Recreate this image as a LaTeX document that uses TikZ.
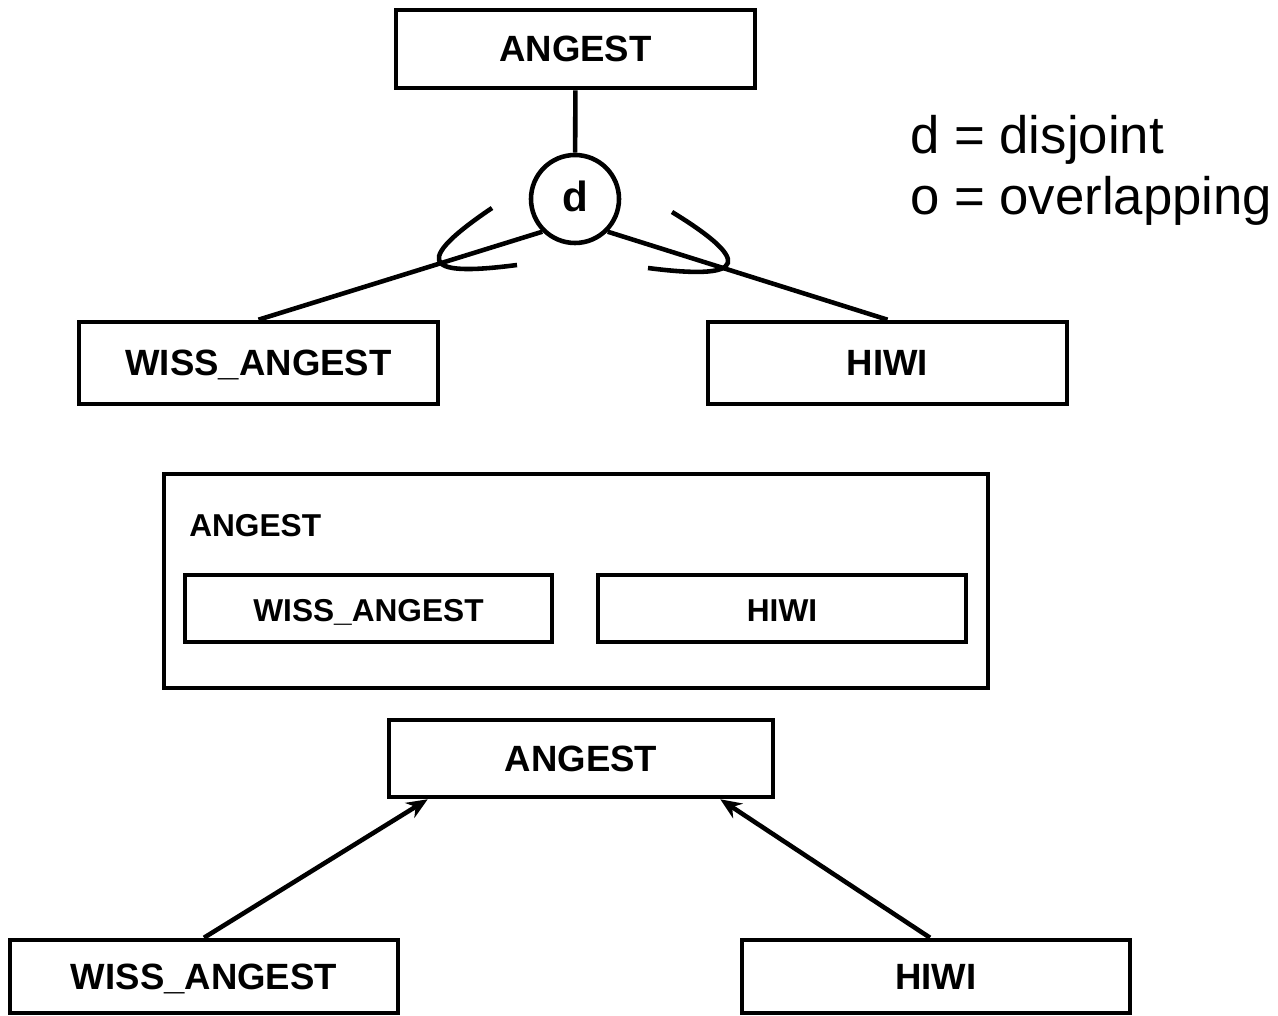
\documentclass[tikz,border=0pt]{standalone}
\usepackage{fontspec}
\setmainfont{Liberation Sans}
\usetikzlibrary{arrows.meta}
\begin{document}
\begin{tikzpicture}[x=0.1mm,y=-0.1mm,line width=1.3pt,
    ent/.style={draw,rectangle,inner sep=0pt,text height=0.72em,text depth=0pt,font=\bfseries\fontsize{10.4}{12}\selectfont},
    sub/.style={draw,rectangle,inner sep=0pt,text height=0.72em,text depth=0pt,font=\bfseries\fontsize{9}{11}\selectfont},
    legend/.style={anchor=base west,inner sep=0pt,font=\fontsize{15}{18}\selectfont},
    isa/.style={-{Stealth[length=6pt,width=5pt]}}]
        \useasboundingbox (0,0) rectangle (1278,1016);
        \node[ent,minimum width=35.9mm,minimum height=7.8mm] (angest1) at (575.5,49) {ANGEST};
        \node[ent,circle,minimum size=8.8mm,font=\bfseries\fontsize{12}{14}\selectfont] (dcirc) at (575,199) {d};
        \node[ent,minimum width=35.9mm,minimum height=8.2mm] (wiss1) at (258.5,363) {WISS\_ANGEST};
        \node[ent,minimum width=35.9mm,minimum height=8.2mm] (hiwi1) at (887.5,363) {HIWI};
        \node[legend] (legd) at (908,154) {d = disjoint};
        \node[legend] (lego) at (908,215) {o = overlapping};
        \draw (angest1) -- (dcirc);
        \draw (dcirc.225) -- (wiss1.north);
        \draw (dcirc.-45) -- (hiwi1.north);
        \draw (492,208) .. controls (400,270) and (440,275) .. (517,265);
        \draw (672,212) .. controls (770,272) and (725,278) .. (648,268);
        \node[sub,minimum width=82.4mm,minimum height=21.4mm] (angest2) at (576,581) {};
        \node[sub,draw=none,anchor=base west] (angest2lbl) at (187,537) {ANGEST};
        \node[sub,minimum width=36.7mm,minimum height=6.7mm] (wiss2) at (368.5,608.5) {WISS\_ANGEST};
        \node[sub,minimum width=36.8mm,minimum height=6.7mm] (hiwi2) at (782,608.5) {HIWI};
        \node[ent,minimum width=38.4mm,minimum height=7.7mm] (angest3) at (581,758.5) {ANGEST};
        \node[ent,minimum width=38.8mm,minimum height=7.3mm] (wiss3) at (204,976.5) {WISS\_ANGEST};
        \node[ent,minimum width=38.8mm,minimum height=7.3mm] (hiwi3) at (936,976.5) {HIWI};
        \draw[isa] (wiss3.north) -- ([xshift=4.1mm]angest3.south west);
        \draw[isa] ([xshift=-0.6mm]hiwi3.north) -- ([xshift=-5.5mm]angest3.south east);
      \end{tikzpicture}
\end{document}
